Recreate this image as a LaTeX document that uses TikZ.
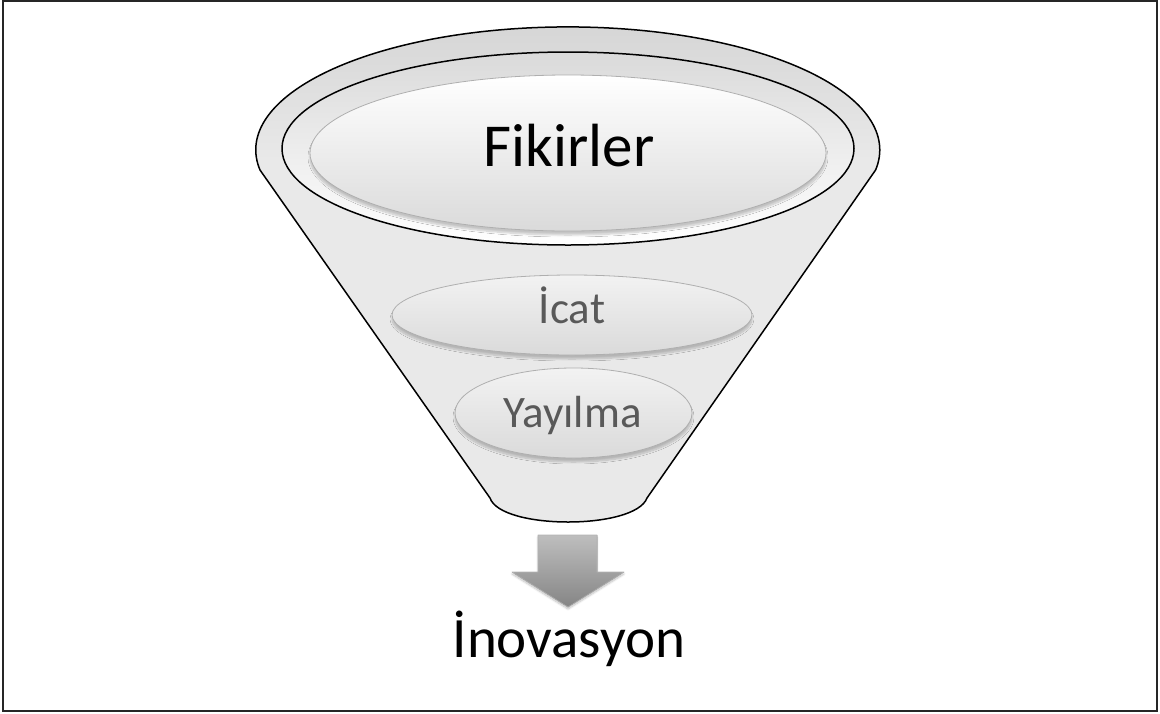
\documentclass[tikz,border=0pt]{standalone}
\usepackage{fontspec}
\setmainfont{Carlito}
\usetikzlibrary{shapes.geometric,shadows.blur}
\definecolor{funnelfill}{HTML}{E9E9E9}
\definecolor{bandtop}{HTML}{D6D6D6}
\definecolor{innertop}{HTML}{DADADA}
\definecolor{glossbot}{HTML}{DADADA}
\definecolor{rim}{HTML}{AFAFAF}
\definecolor{labelgray}{HTML}{595959}
\definecolor{arrowtop}{HTML}{BEBEBE}
\definecolor{arrowbot}{HTML}{858585}
\tikzset{
  outline/.style={draw=black, line width=1.5pt, line join=round},
  bubble/.style={ellipse, inner sep=0pt, top color=white, bottom color=glossbot, draw=rim, line width=0.8pt,
    blur shadow={shadow xshift=0pt, shadow yshift=-4pt, shadow blur steps=10, shadow opacity=22}},
  bigtext/.style={font=\fontsize{61}{70}\selectfont, text=black, anchor=base, inner sep=0pt},
  midtext/.style={font=\fontsize{45}{54}\selectfont, text=labelgray, anchor=base, inner sep=0pt},
  outtext/.style={font=\fontsize{57}{66}\selectfont, text=black, anchor=base, inner sep=0pt}
}
\begin{document}
\begin{tikzpicture}[x=1pt,y=-1pt]
\useasboundingbox (0,0) rectangle (1160,713);
\draw[line width=2pt, black!85] (3,1) rectangle (1157,711);
% funnel body
\fill[funnelfill] (260,170) arc[start angle=170.6,end angle=369.4,x radius=312,y radius=123]
  -- (647,498) .. controls (635,530) and (501,530) .. (490,498) -- cycle;
\begin{scope}
\clip (260,170) arc[start angle=170.6,end angle=369.4,x radius=312,y radius=123]
  -- (647,498) .. controls (635,530) and (501,530) .. (490,498) -- cycle;
\fill[top color=bandtop, bottom color=funnelfill] (250,25) rectangle (890,160);
\end{scope}
\draw[outline] (260,170) arc[start angle=170.6,end angle=369.4,x radius=312,y radius=123]
  -- (647,498) .. controls (635,530) and (501,530) .. (490,498) -- cycle;
% inner rim
\draw[outline, top color=innertop, bottom color=white] (568,148.5) ellipse [x radius=286, y radius=96.5];
% bubbles
\node[bubble, minimum width=516pt, minimum height=156pt] (fik) at (568,153) {};
\node[bigtext] (fikt) at (569,166) {Fikirler};
\node[bubble, top color=white!95!black, minimum width=360pt, minimum height=80pt] (icat) at (572,315) {};
\node[midtext] (icatt) at (572,323) {İcat};
\node[bubble, top color=white!95!black, minimum width=237pt, minimum height=90pt] (yay) at (573.5,413) {};
\node[midtext] (yayt) at (572.5,427) {Yayılma};
% arrow
\fill[top color=arrowtop, bottom color=arrowbot, draw=white!70!black, line width=0.6pt, line join=round,
  blur shadow={shadow xshift=0pt, shadow yshift=-2pt, shadow blur steps=6, shadow opacity=25}]
  (538,535) -- (597,535) -- (597,572) -- (624,572) -- (568,607) -- (512,572) -- (538,572) -- cycle;
\node[outtext] (ino) at (569,657) {İnovasyon};
\end{tikzpicture}
\end{document}
